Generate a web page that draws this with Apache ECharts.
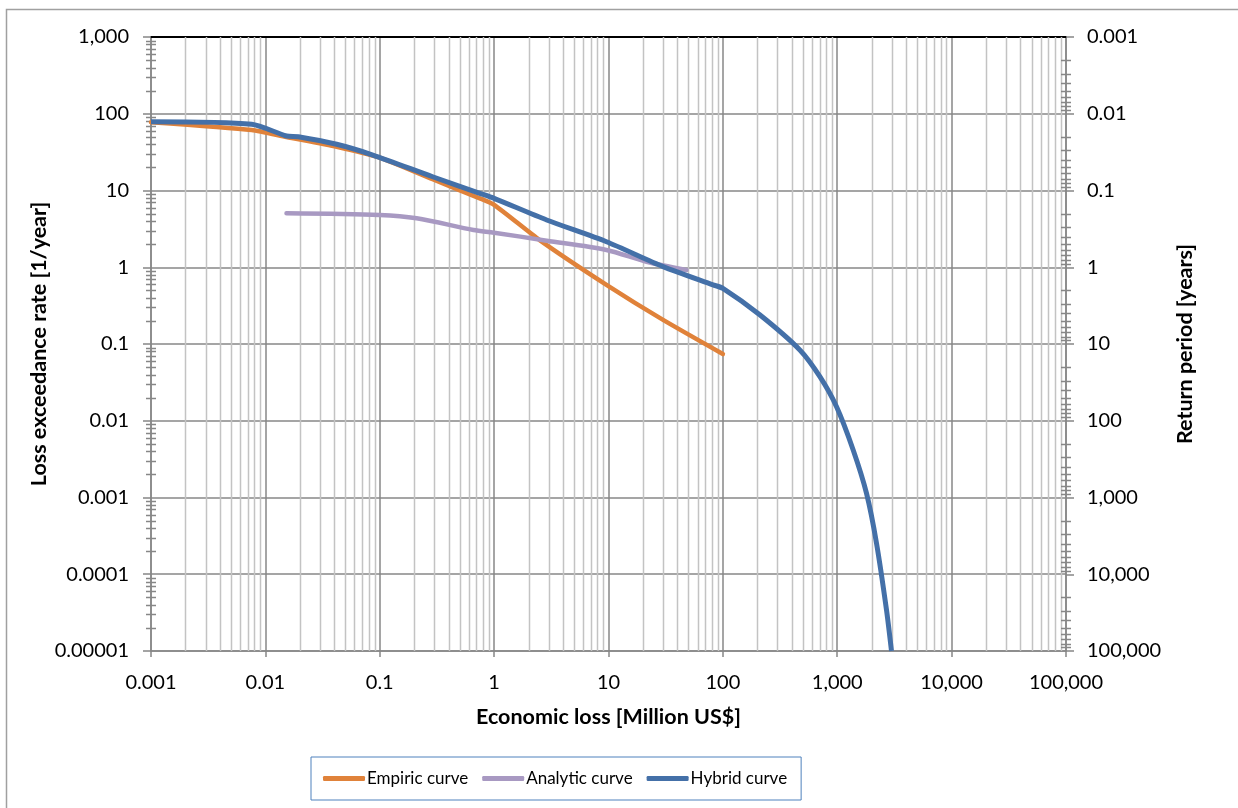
<!DOCTYPE html>
<html>
<head>
<meta charset="utf-8">
<script src="https://cdn.jsdelivr.net/npm/echarts@6/dist/echarts.min.js"></script>
<style>
html,body{margin:0;padding:0;background:#fff;}
#chart{width:1238px;height:808px;}
</style>
</head>
<body>
<div id="chart"></div>
<script>
// ---- Data ----
const empiricX = [0.001, 0.0076, 0.0153, 0.042, 0.1, 0.29, 0.75, 1, 2.5, 9.6, 30, 100];
const empiricY = [77.5, 61.4, 49.8, 37.2, 26.8, 14, 7.9, 6.5, 2.26, 0.59, 0.206, 0.074];

const analyticX = [0.0153, 0.1, 0.21, 0.66, 1, 2.88, 9.6, 21.5, 48];
const analyticY = [5.05, 4.8, 4.35, 3.06, 2.82, 2.22, 1.68, 1.18, 0.92];

const hybridX = [0.001, 0.0076, 0.0153, 0.0194, 0.042, 0.087, 0.29, 0.75, 1, 2.88, 9.6, 30, 82, 100, 210, 471, 705, 986, 1378, 1803, 2205, 2697, 2980];
const hybridY = [78.7, 73, 51.3, 50.2, 40, 29, 15.1, 9.2, 7.9, 4.13, 2.15, 1.02, 0.59, 0.53, 0.24, 0.0835, 0.0375, 0.0152, 0.00416, 0.00113, 0.000253, 0.000034, 0.00001];

const seriesNames = ['Empiric curve', 'Analytic curve', 'Hybrid curve'];
const xTickLabels = ['0.001', '0.01', '0.1', '1', '10', '100', '1,000', '10,000', '100,000'];
const yLeftTickLabels = ['0.00001', '0.0001', '0.001', '0.01', '0.1', '1', '10', '100', '1,000'];
const yRightTickLabels = ['0.001', '0.01', '0.1', '1', '10', '100', '1,000', '10,000', '100,000'];

// minor positions (2..9 per decade)
function minorValues(lo, hi) {
  const out = [];
  for (let e = lo; e < hi; e++) {
    for (let k = 2; k <= 9; k++) out.push(k * Math.pow(10, e));
  }
  return out;
}
const xMinor = minorValues(-3, 5);
const yLeftMinor = minorValues(-5, 3);
const yRightMinor = minorValues(-3, 5);

function fmt(list, lo) {
  return function (v) {
    const e = Math.round(Math.log10(v));
    const s = list[e - lo];
    return s === undefined ? '' : s;
  };
}

const FONT = 'Lato';
const chart = echarts.init(document.getElementById('chart'));

const minorGridColor = '#c3c3c3';
const majorColor = '#878787';
const titleStyle = { fontFamily: FONT, fontSize: 21.5, fontWeight: 'bold', color: '#000' };

const option = {
  animation: false,
  backgroundColor: '#ffffff',
  textStyle: { fontFamily: FONT },
  graphic: [{
    type: 'rect',
    shape: { x: 6.5, y: 9.5, width: 1250, height: 820 },
    style: { fill: 'none', stroke: '#a0a0a0', lineWidth: 1.5 },
    silent: true,
    z: -10
  }],
  grid: { left: 151, right: 172, top: 37, bottom: 157, containLabel: false },
  legend: {
    data: seriesNames,
    left: 311,
    top: 757,
    orient: 'horizontal',
    icon: 'roundRect',
    itemWidth: 42,
    itemHeight: 5,
    itemGap: 14,
    padding: [13, 14, 13, 12],
    borderColor: '#4f81bd',
    borderWidth: 1,
    borderRadius: 0,
    textStyle: { fontFamily: FONT, fontSize: 17, color: '#000', padding: [0, 0, 0, -3] }
  },
  xAxis: [{
    type: 'log',
    logBase: 10,
    min: 0.001,
    max: 100000,
    splitNumber: 8,
    name: 'Economic loss [Million US$]',
    nameLocation: 'middle',
    nameGap: 55,
    nameTextStyle: titleStyle,
    axisLine: { show: true, lineStyle: { color: majorColor, width: 1.5 } },
    axisTick: { show: true, length: 6, lineStyle: { color: majorColor, width: 1.5 } },
    axisLabel: { fontFamily: FONT, fontSize: 20, color: '#000', margin: 22, formatter: fmt(xTickLabels, -3) },
    splitLine: { show: true, lineStyle: { color: majorColor, width: 1.5 } },
    minorTick: { show: false },
    minorSplitLine: { show: false }
  }, {
    type: 'log',
    logBase: 10,
    min: 0.001,
    max: 100000,
    position: 'top',
    axisLine: { show: true, lineStyle: { color: '#000', width: 2 } },
    axisTick: { show: false },
    axisLabel: { show: false },
    splitLine: { show: false }
  }],
  yAxis: [{
    type: 'log',
    logBase: 10,
    min: 0.00001,
    max: 1000,
    splitNumber: 8,
    position: 'left',
    name: 'Loss exceedance rate [1/year]',
    nameLocation: 'middle',
    nameRotate: 90,
    nameGap: 101,
    nameMoveOverlap: false,
    nameTextStyle: titleStyle,
    axisLine: { show: true, lineStyle: { color: majorColor, width: 1.5 } },
    axisTick: { show: true, length: 8, lineStyle: { color: majorColor, width: 1.5 } },
    axisLabel: { fontFamily: FONT, fontSize: 20, color: '#000', margin: 22, formatter: fmt(yLeftTickLabels, -5) },
    splitLine: { show: true, lineStyle: { color: majorColor, width: 1.5 } }
  }, {
    type: 'log',
    logBase: 10,
    min: 0.001,
    max: 100000,
    splitNumber: 8,
    inverse: true,
    position: 'right',
    name: 'Return period [years]',
    nameLocation: 'middle',
    nameRotate: 90,
    nameGap: 108,
    nameTextStyle: titleStyle,
    axisLine: { show: true, lineStyle: { color: majorColor, width: 1.5 } },
    axisTick: { show: true, length: 8, lineStyle: { color: majorColor, width: 1.5 } },
    axisLabel: { fontFamily: FONT, fontSize: 20, color: '#000', margin: 21, formatter: fmt(yRightTickLabels, -3) },
    splitLine: { show: false }
  }],
  series: [
    {
      name: 'minorGridX',
      type: 'custom',
      coordinateSystem: 'cartesian2d',
      silent: true,
      z: 1,
      data: xMinor.map(v => [v, 1]),
      renderItem: function (params, api) {
        const p = api.coord([api.value(0), api.value(1)]);
        const cs = params.coordSys;
        const x = Math.round(p[0]) + 0.5;
        return {
          type: 'line',
          shape: { x1: x, y1: cs.y, x2: x, y2: cs.y + cs.height },
          style: { stroke: minorGridColor, lineWidth: 1.5 }
        };
      }
    },
    {
      name: 'minorTickLeft',
      type: 'custom',
      coordinateSystem: 'cartesian2d',
      silent: true,
      z: 3,
      data: yLeftMinor.map(v => [0.001, v]),
      renderItem: function (params, api) {
        const p = api.coord([api.value(0), api.value(1)]);
        const cs = params.coordSys;
        const y = Math.round(p[1]) + 0.5;
        return {
          type: 'line',
          shape: { x1: cs.x - 5, y1: y, x2: cs.x + 5, y2: y },
          style: { stroke: majorColor, lineWidth: 1.5 }
        };
      }
    },
    {
      name: 'minorTickRight',
      type: 'custom',
      coordinateSystem: 'cartesian2d',
      yAxisIndex: 1,
      silent: true,
      z: 3,
      data: yRightMinor.map(v => [100000, v]),
      renderItem: function (params, api) {
        const p = api.coord([api.value(0), api.value(1)]);
        const cs = params.coordSys;
        const y = Math.round(p[1]) + 0.5;
        const xr = cs.x + cs.width;
        return {
          type: 'line',
          shape: { x1: xr - 5, y1: y, x2: xr + 5, y2: y },
          style: { stroke: majorColor, lineWidth: 1.5 }
        };
      }
    },
    {
      name: seriesNames[0],
      type: 'line',
      data: empiricX.map((x, i) => [x, empiricY[i]]),
      showSymbol: false,
      smooth: 0.2,
      z: 4,
      itemStyle: { color: '#e0823a' },
      lineStyle: { color: '#e0823a', width: 4.5, cap: 'round', join: 'round' }
    },
    {
      name: seriesNames[1],
      type: 'line',
      data: analyticX.map((x, i) => [x, analyticY[i]]),
      showSymbol: false,
      smooth: 0.3,
      z: 4,
      itemStyle: { color: '#a899c2' },
      lineStyle: { color: '#a899c2', width: 4.5, cap: 'round', join: 'round' }
    },
    {
      name: seriesNames[2],
      type: 'line',
      data: hybridX.map((x, i) => [x, hybridY[i]]),
      showSymbol: false,
      smooth: 0.25,
      z: 5,
      itemStyle: { color: '#4470a8' },
      lineStyle: { color: '#4470a8', width: 5, cap: 'butt', join: 'round' }
    }
  ]
};
chart.setOption(option);
</script>
</body>
</html>
